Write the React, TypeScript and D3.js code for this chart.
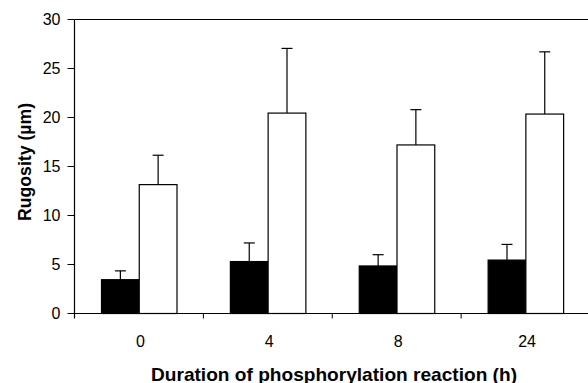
import React from "react";
import * as d3 from "d3";

// Rugosity at each reaction time (h); two treatment groups with upper SD bars
const categories = ["0", "4", "8", "24"];
const solidValues = [3.45, 5.3, 4.85, 5.45];
const solidErrors = [0.9, 1.9, 1.15, 1.6];
const openValues = [13.15, 20.45, 17.2, 20.35];
const openErrors = [3.0, 6.6, 3.6, 6.35];
const yTicks = [0, 5, 10, 15, 20, 25, 30];
const seriesKeys = ["solid", "open"];

const W = 588;
const H = 383;
const left = 74.5;
const right = 590;
const top = 19.5;
const bottom = 313.5;
const FONT = "'Liberation Sans', Arial, Helvetica, sans-serif";

export default function App() {
  const x = d3.scaleBand<string>().domain(categories).range([left, right]).padding(0);
  const inner = d3.scaleBand<string>().domain(seriesKeys).range([27, 102.5]).padding(0);
  const y = d3.scaleLinear().domain([0, 30]).range([bottom, top]);

  const series = [
    { key: "solid", values: solidValues, errors: solidErrors, fill: "#000" },
    { key: "open", values: openValues, errors: openErrors, fill: "#fff" },
  ];

  const bw = inner.bandwidth();
  const capHalf = 5.5;

  return (
    <svg
      width={W}
      height={H}
      style={{ position: "absolute", left: 0, top: 0, background: "#fff" }}
      fontFamily={FONT}
    >
      <rect x={0} y={0} width={W} height={H} fill="#fff" />

      {/* bars with upper error bars */}
      {series.map((s) =>
        categories.map((c, i) => {
          const x0 = (x(c) as number) + (inner(s.key) as number);
          const yTop = y(s.values[i]);
          const yErr = y(s.values[i] + s.errors[i]);
          const cx = x0 + bw / 2;
          return (
            <g key={s.key + c}>
              <line x1={cx} x2={cx} y1={yTop} y2={yErr} stroke="#000" strokeWidth={1.2} />
              <line x1={cx - capHalf} x2={cx + capHalf} y1={yErr} y2={yErr} stroke="#000" strokeWidth={1.2} />
              <rect
                x={x0}
                y={yTop}
                width={bw}
                height={bottom - yTop}
                fill={s.fill}
                stroke="#000"
                strokeWidth={1.2}
              />
            </g>
          );
        })
      )}

      {/* frame: top line, left axis, baseline */}
      <line x1={left} x2={right} y1={top} y2={top} stroke="#000" strokeWidth={1.2} />
      <line x1={left} x2={left} y1={top} y2={bottom + 5} stroke="#000" strokeWidth={1.2} />
      <line x1={left} x2={right} y1={bottom} y2={bottom} stroke="#000" strokeWidth={1.2} />

      {/* y axis ticks and labels */}
      {yTicks.map((t) => (
        <g key={t}>
          <line x1={left - 7} x2={left} y1={y(t)} y2={y(t)} stroke="#000" strokeWidth={1} />
          <text x={60.5} y={y(t) + 5.7} textAnchor="end" fontSize={16} fill="#000">
            {t}
          </text>
        </g>
      ))}

      {/* x axis ticks at category boundaries and labels */}
      {categories.slice(1).map((c) => (
        <line key={c} x1={x(c)} x2={x(c)} y1={bottom} y2={bottom + 5} stroke="#000" strokeWidth={1} />
      ))}
      {categories.map((c) => (
        <text
          key={c}
          x={(x(c) as number) + x.bandwidth() / 2 + 1.5}
          y={347}
          textAnchor="middle"
          fontSize={16}
          fill="#000"
        >
          {c}
        </text>
      ))}

      {/* axis titles */}
      <text
        x={334}
        y={380.5}
        textAnchor="middle"
        fontSize={19}
        fontWeight="bold"
        fill="#000"
        textLength={366}
        lengthAdjust="spacingAndGlyphs"
      >
        Duration of phosphorylation reaction (h)
      </text>
      <text
        transform={`translate(31,162) rotate(-90)`}
        textAnchor="middle"
        fontSize={17.5}
        fontWeight="bold"
        fill="#000"
        textLength={118}
        lengthAdjust="spacingAndGlyphs"
      >
        Rugosity (µm)
      </text>
    </svg>
  );
}
